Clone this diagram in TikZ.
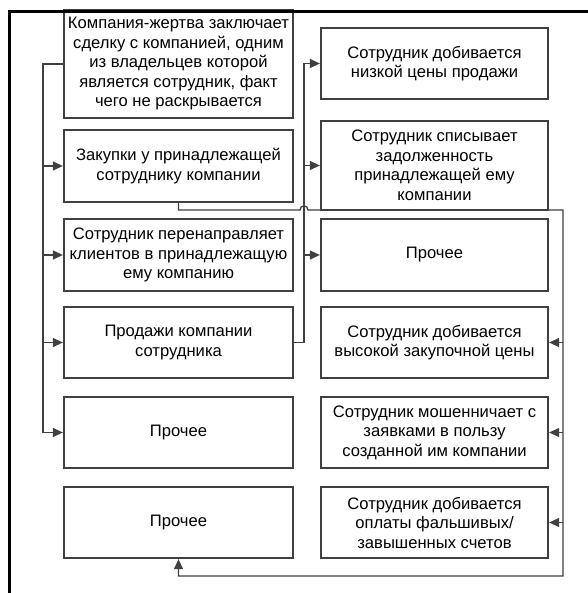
\documentclass[tikz,border=0pt]{standalone}
\usepackage{fontspec}
\setmainfont{Liberation Sans}
\usetikzlibrary{arrows.meta}
\definecolor{ln}{HTML}{404040}
\begin{document}
\begin{tikzpicture}[x=1bp,y=-1bp,
  box/.style={draw=ln, line width=1.3bp, fill=white, align=center, inner sep=0pt,
    font=\fontsize{16.6bp}{19.5bp}\selectfont, text=black},
  lbox/.style={box, minimum width=229bp},
  rbox/.style={box, minimum width=227bp},
  conn/.style={draw=ln, line width=1.3bp},
  arr/.style={conn, -{Triangle[length=10bp,width=9bp]}, shorten >=0.5bp}]
\useasboundingbox (0,0) rectangle (588,593);
\fill[white] (0,0) rectangle (588,593);

\node[lbox, minimum height=108bp] (L1) at (178.5,64) {Компания-жертва заключает\\сделку с компанией, одним\\из владельцев которой\\является сотрудник, факт\\чего не раскрывается};
\node[lbox, minimum height=72bp] (L2) at (178.5,166) {Закупки у принадлежащей\\сотруднику компании};
\node[lbox, minimum height=72bp] (L3) at (178.5,255) {Сотрудник перенаправляет\\клиентов в принадлежащую\\ему компанию};
\node[lbox, minimum height=71bp] (L4) at (178.5,342.5) {Продажи компании\\сотрудника};
\node[lbox, minimum height=71bp] (L5) at (178.5,432.5) {Прочее};
\node[lbox, minimum height=71bp] (L6) at (178.5,522.5) {Прочее};

\node[rbox, minimum height=71bp] (R1) at (434.5,63.5) {Сотрудник добивается\\низкой цены продажи};
\node[rbox, minimum height=89bp] (R2) at (434.5,165.5) {Сотрудник списывает\\задолженность\\принадлежащей ему\\компании};
\node[rbox, minimum height=72bp] (R3) at (434.5,255) {Прочее};
\node[rbox, minimum height=71bp] (R4) at (434.5,342.5) {Сотрудник добивается\\высокой закупочной цены};
\node[rbox, minimum height=71bp] (R5) at (434.5,432.5) {Сотрудник мошенничает с\\заявками в пользу\\созданной им компании};
\node[rbox, minimum height=71bp] (R6) at (434.5,522.5) {Сотрудник добивается\\оплаты фальшивых/\\завышенных счетов};

\coordinate (lt) at (43,64);
\coordinate (rt) at (304,64);
\coordinate (rb) at (563,210);

% left bus
\draw[arr] (L1.west) -- (lt) |- (L5.west);
\draw[arr] (L2.west -| lt) -- (L2.west);
\draw[arr] (L3.west -| lt) -- (L3.west);
\draw[arr] (L4.west -| lt) -- (L4.west);

% middle bus
\draw[arr] (L4.east) -- (L4.east -| rt) |- (R1.west);
\draw[arr] (R2.west -| rt) -- (R2.west);
\draw[arr] (R3.west -| rt) -- (R3.west);

% loop from L2 to L6
\coordinate (h1) at (300,210);
\coordinate (h2) at (308,210);
\coordinate (c1) at (563,576);
\draw[arr] (L2.south) |- (h1) .. controls (300,204.5) and (308,204.5) .. (h2) -- (rb) -- (c1) -| (L6.south);
\draw[arr] (R4.east -| rb) -- (R4.east);
\draw[arr] (R5.east -| rb) -- (R5.east);
\draw[arr] (R6.east -| rb) -- (R6.east);

% frame
\draw[black, line width=3.5bp] (9.5,593) -- (9.5,11.5) -- (588,11.5);
\end{tikzpicture}
\end{document}
